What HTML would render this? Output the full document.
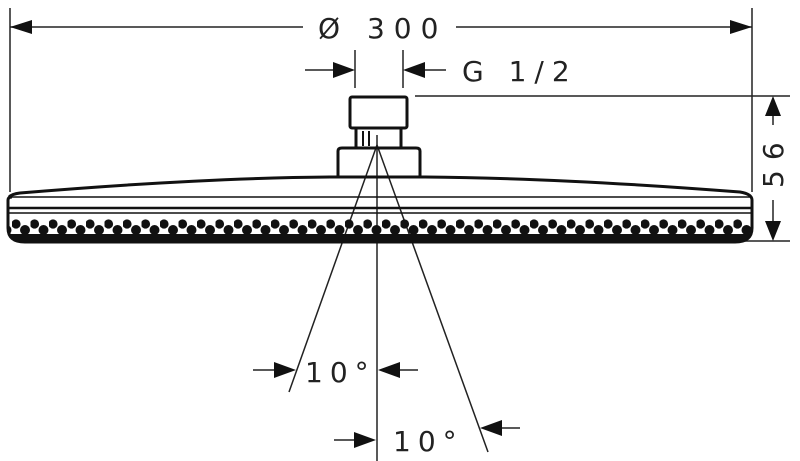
<!DOCTYPE html>
<html><head><style>html,body{margin:0;padding:0;background:#fff}svg{display:block}</style></head>
<body>
<svg width="800" height="461" viewBox="0 0 800 461" xmlns="http://www.w3.org/2000/svg">
<defs>
<pattern id="dots" x="12" y="0" width="18.5" height="461" patternUnits="userSpaceOnUse">
<circle cx="4" cy="224" r="4.6" fill="#111"/>
<circle cx="13" cy="230" r="5" fill="#111"/>
</pattern>
<clipPath id="bodyclip"><path d="M9,214 L752,214 L752,228 Q752,242 735,242 L25,242 Q9,242 9,228 Z"/></clipPath>
</defs>
<g stroke="#222" fill="none" stroke-width="1.5">
<line x1="10" y1="8" x2="10" y2="192"/>
<line x1="752" y1="8" x2="752" y2="192"/>
<line x1="10" y1="27" x2="303" y2="27"/>
<line x1="456" y1="27" x2="752" y2="27"/>
<line x1="355" y1="50" x2="355" y2="88"/>
<line x1="403" y1="50" x2="403" y2="88"/>
<line x1="305" y1="70" x2="340" y2="70"/>
<line x1="418" y1="70" x2="446" y2="70"/>
<line x1="415" y1="96" x2="790" y2="96"/>
<line x1="740" y1="241" x2="790" y2="241"/>
<line x1="773" y1="115" x2="773" y2="125"/>
<line x1="773" y1="200" x2="773" y2="222"/>
<line x1="377" y1="135" x2="377" y2="461"/>
<line x1="377" y1="145" x2="289" y2="392"/>
<line x1="377" y1="145" x2="488" y2="452"/>
<line x1="253" y1="370" x2="278" y2="370"/>
<line x1="395" y1="370" x2="418" y2="370"/>
<line x1="334" y1="440" x2="360" y2="440"/>
<line x1="498" y1="428" x2="520" y2="428"/>
</g>
<g fill="#111">
<polygon points="10,27 32,20 32,34"/>
<polygon points="752,27 730,20 730,34"/>
<polygon points="355,70 333,62 333,78"/>
<polygon points="403,70 425,62 425,78"/>
<polygon points="773,96 765,116 781,116"/>
<polygon points="773,241 765,221 781,221"/>
<polygon points="296,370 274,362 274,378"/>
<polygon points="378,370 400,362 400,378"/>
<polygon points="376,440 354,432 354,448"/>
<polygon points="480,428 502,420 502,436"/>
</g>
<g stroke="#111" fill="none">
<rect x="350" y="97" width="57" height="31" rx="2" stroke-width="3"/>
<path d="M356,128 L356,148 M401,128 L401,148" stroke-width="3"/>
<path d="M363,131 L363,146 M369,131 L369,146" stroke-width="2"/>
<path d="M338,177 L338,151 Q338,148 342,148 L416,148 Q420,148 420,151 L420,177" stroke-width="3"/>
<path d="M9,197 Q12,194 20,193 Q200,178 330,177 L425,177 Q560,178 740,192 Q752,194 752,200 L752,228 Q752,242 735,242 L25,242 Q8,242 8,228 L8,200 Q8,197 12,197" stroke-width="3"/>
<line x1="9" y1="197" x2="752" y2="197" stroke-width="1.5"/>
<line x1="9" y1="208" x2="752" y2="208" stroke-width="2.5"/>
<line x1="9" y1="213" x2="752" y2="213" stroke-width="1.5"/>
</g>
<rect x="0" y="210" width="800" height="40" fill="url(#dots)" clip-path="url(#bodyclip)"/>
<path d="M9,234 L752,234 L752,228 Q752,242 735,242 L25,242 Q9,242 9,228 Z" fill="#111"/>
<g font-family="'DejaVu Sans','Liberation Sans',sans-serif" fill="#222" font-size="28">
<text x="318" y="38" letter-spacing="9">Ø 300</text>
<text x="462" y="81" letter-spacing="8">G 1/2</text>
<text x="305" y="382" letter-spacing="7">10°</text>
<text x="393" y="451" letter-spacing="7">10°</text>
<text transform="translate(783,188) rotate(-90)" letter-spacing="10">56</text>
</g>
</svg>
</body></html>
